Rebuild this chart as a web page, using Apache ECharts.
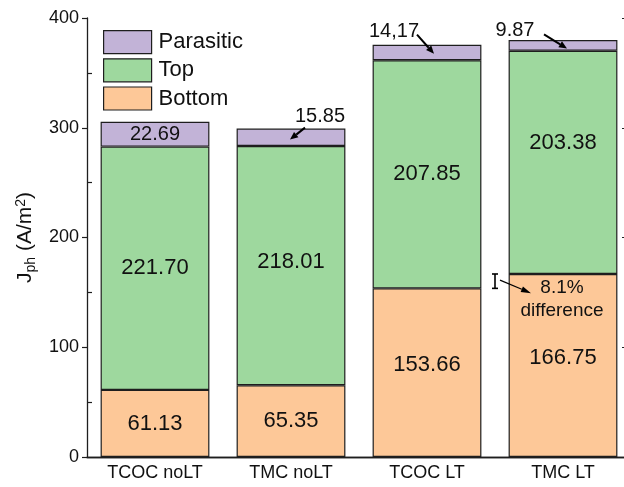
<!DOCTYPE html>
<html>
<head>
<meta charset="utf-8">
<script src="https://cdn.jsdelivr.net/npm/echarts@6/dist/echarts.min.js"></script>
<style>
  html, body { margin: 0; padding: 0; background: #fff; }
  #chart { width: 624px; height: 487px; }
</style>
</head>
<body>
<div id="chart"></div>
<script>
// Photocurrent density split per configuration (A/m^2)
const categories = ['TCOC noLT', 'TMC noLT', 'TCOC LT', 'TMC LT'];
const bottomValues = [61.13, 65.35, 153.66, 166.75];
const topValues = [221.70, 218.01, 207.85, 203.38];
const parasiticValues = [22.69, 15.85, 14.17, 9.87];
const yTicks = [0, 100, 200, 300, 400];
const differenceText = ['8.1%', 'difference'];

const FONT = 'Liberation Sans, Arial, sans-serif';
const INK = '#111';
const EDGE = '#1e1e1e';
const colors = { bottom: '#fdc898', top: '#9ed89e', parasitic: '#c2b3d7' };

const chart = echarts.init(document.getElementById('chart'), null, { renderer: 'canvas' });

// small nudges for the in-bar value labels
const topLabelShift = [0, -4, 0, -19];
const bottomLabelShift = [0, 0, -8, -8];
// outside labels of the thin parasitic caps (relative to the bar top)
const parasiticLabelShift = [null, [29, 3], [-33, 2], [-48, 6]];

function fmt(v, i) {
  return v.toFixed(2);
}
function fmtCap(v, i) {
  const s = v.toFixed(2);
  return i === 2 ? s.replace('.', ',') : s;
}

const valueLabel = { show: true, position: 'inside', color: INK, fontFamily: FONT, fontSize: 22 };

const bottomData = bottomValues.map((v, i) => ({
  value: v,
  label: Object.assign({}, valueLabel, { offset: [0, bottomLabelShift[i]] })
}));
const topData = topValues.map((v, i) => ({
  value: v,
  label: Object.assign({}, valueLabel, { offset: [0, topLabelShift[i]] })
}));
const parasiticData = parasiticValues.map((v, i) => {
  const sh = parasiticLabelShift[i];
  return {
    value: v,
    label: sh
      ? Object.assign({}, valueLabel, { position: 'top', fontSize: 20, offset: sh })
      : Object.assign({}, valueLabel, { fontSize: 20 })
  };
});

const barStyle = c => ({ color: c, borderColor: EDGE, borderWidth: 1.2 });

const yMin = yTicks[0], yMax = yTicks[yTicks.length - 1], yStep = yTicks[1] - yTicks[0];

chart.setOption({
  animation: false,
  backgroundColor: '#fff',
  textStyle: { fontFamily: FONT },
  grid: { left: 87, top: 18, right: -7, bottom: 30, containLabel: false, outerBoundsMode: 'none' },
  legend: {
    data: ['Parasitic', 'Top', 'Bottom'],
    orient: 'vertical',
    left: 103, top: 30, padding: 0,
    itemWidth: 48, itemHeight: 23, itemGap: 4,
    icon: 'rect',
    itemStyle: { borderColor: EDGE, borderWidth: 1.2 },
    textStyle: { fontFamily: FONT, fontSize: 22, color: INK, lineHeight: 23, padding: [0, 0, 0, 2] }
  },
  xAxis: [
    {
      type: 'category', data: categories, position: 'bottom',
      axisLine: { lineStyle: { color: EDGE, width: 1.3 } },
      axisTick: { show: false },
      axisLabel: { color: INK, fontFamily: FONT, fontSize: 18, margin: 7 },
      splitLine: { show: false }
    },
    {
      type: 'category', data: categories, position: 'top',
      axisLine: { lineStyle: { color: EDGE, width: 1.3 } },
      axisTick: { show: false }, axisLabel: { show: false }, splitLine: { show: false }
    }
  ],
  yAxis: [
    {
      type: 'value', min: yMin, max: yMax, interval: yStep, position: 'left',
      name: '{j|J}{sub|ph}{j| (A/m}{sup|2}{j|)}',
      nameLocation: 'middle', nameGap: 45, nameRotate: 90,
      nameTextStyle: {
        color: INK, fontFamily: FONT,
        rich: {
          j: { fontSize: 21, fontFamily: FONT, color: INK, lineHeight: 22, verticalAlign: 'middle' },
          sub: { fontSize: 14, fontFamily: FONT, color: INK, lineHeight: 22, verticalAlign: 'bottom', padding: [0, 0, -2, 0] },
          sup: { fontSize: 14, fontFamily: FONT, color: INK, lineHeight: 22, verticalAlign: 'top', padding: [0, 0, 2, 0] }
        }
      },
      axisLine: { show: true, lineStyle: { color: EDGE, width: 1.3 } },
      axisTick: { show: true, length: 5, lineStyle: { color: EDGE, width: 1.2 } },
      minorTick: { show: true, splitNumber: 2, length: -5, lineStyle: { color: EDGE, width: 1.2 } },
      axisLabel: { color: INK, fontFamily: FONT, fontSize: 18, margin: 8 },
      splitLine: { show: false }
    },
    {
      type: 'value', min: yMin, max: yMax, interval: yStep, position: 'right',
      axisLine: { show: true, lineStyle: { color: EDGE, width: 1.3 } },
      axisTick: { show: true, inside: true, length: 9, lineStyle: { color: EDGE, width: 1.2 } },
      axisLabel: { show: false }, splitLine: { show: false }
    }
  ],
  series: [
    {
      name: 'Bottom', type: 'bar', stack: 'jph', barCategoryGap: '20%', data: bottomData,
      itemStyle: barStyle(colors.bottom), label: { formatter: p => fmt(p.value, p.dataIndex) }
    },
    {
      name: 'Top', type: 'bar', stack: 'jph', barCategoryGap: '20%', data: topData,
      itemStyle: barStyle(colors.top), label: { formatter: p => fmt(p.value, p.dataIndex) }
    },
    {
      name: 'Parasitic', type: 'bar', stack: 'jph', barCategoryGap: '20%', data: parasiticData,
      itemStyle: barStyle(colors.parasitic),
      label: { formatter: p => fmtCap(p.value, p.dataIndex) }
    }
  ]
});

// annotations: arrows to the thin parasitic caps and the bottom-cell difference marker
const px = (i, v) => chart.convertToPixel({ xAxisIndex: 0, yAxisIndex: 0 }, [i, v]);

function arrow(x1, y1, x2, y2, width, headLen, headW) {
  const a = Math.atan2(y2 - y1, x2 - x1);
  const c = Math.cos(a), s = Math.sin(a);
  const bx = x2 - headLen * c, by = y2 - headLen * s;
  return [
    { type: 'line', z: 100, shape: { x1: x1, y1: y1, x2: bx, y2: by }, style: { stroke: '#000', lineWidth: width } },
    { type: 'polygon', z: 100, shape: { points: [[x2, y2], [bx + headW / 2 * s, by - headW / 2 * c], [bx - headW / 2 * s, by + headW / 2 * c]] }, style: { fill: '#000' } }
  ];
}

const totals = categories.map((_, i) => bottomValues[i] + topValues[i] + parasiticValues[i]);
const capArrows = [null, { tail: [14, -1], head: [-1, 11] }, { tail: [-10, -10], head: [7, 9] }, { tail: [-19, -5.5], head: [4, 8.5] }];
const elements = [];
capArrows.forEach((a, i) => {
  if (!a) return;
  const p = px(i, totals[i]);
  elements.push(...arrow(p[0] + a.tail[0], p[1] + a.tail[1], p[0] + a.head[0], p[1] + a.head[1], 2, 8, 7));
});

// I-beam between the two LT bottom cells
const pA = px(2, bottomValues[2]);
const pB = px(3, bottomValues[3]);
const bx = (pA[0] + pB[0]) / 2;
const yLo = pA[1], yHi = pB[1];
[[bx, yHi, bx, yLo], [bx - 3, yHi, bx + 3, yHi], [bx - 3, yLo, bx + 3, yLo]].forEach(l => {
  elements.push({ type: 'line', z: 100, shape: { x1: l[0], y1: l[1], x2: l[2], y2: l[3] }, style: { stroke: '#000', lineWidth: 1.6 } });
});
const ym = (yLo + yHi) / 2;
elements.push(...arrow(bx + 5, ym - 1, bx + 36, ym + 12, 1.2, 10, 6));
differenceText.forEach((t, k) => {
  elements.push({
    type: 'text', z: 100, x: pB[0] - 1, y: yHi + 14 + k * 23,
    style: { text: t, fill: INK, font: '19px ' + FONT, align: 'center', verticalAlign: 'middle' }
  });
});

chart.setOption({ graphic: elements });
</script>
</body>
</html>
